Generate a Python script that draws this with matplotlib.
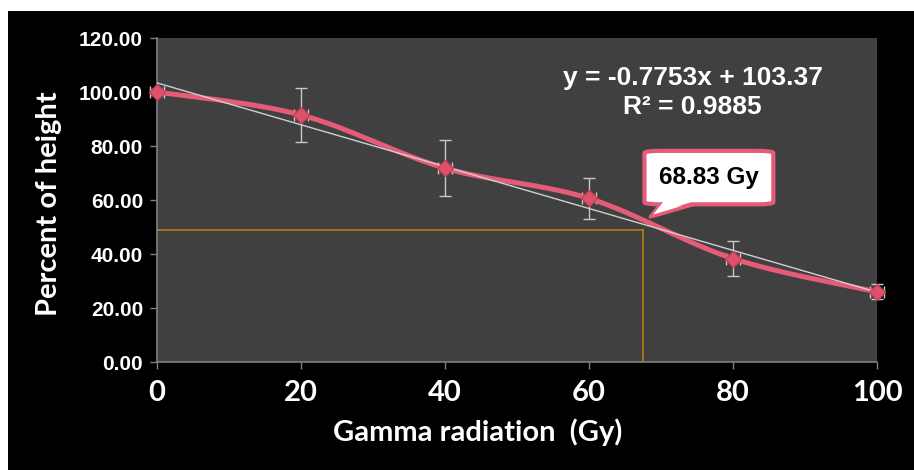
import numpy as np
import matplotlib
matplotlib.use("Agg")
import matplotlib.pyplot as plt
from matplotlib.patches import Rectangle, FancyBboxPatch, Polygon

# ---- data ----
dose = [0, 20, 40, 60, 80, 100]
height_pct = [100.0, 91.5, 71.8, 60.6, 38.3, 26.0]
err_y = [1.0, 10.1, 10.4, 7.6, 6.5, 2.8]
err_x = [1.0, 1.0, 1.0, 1.0, 1.0, 1.0]
slope, intercept = -0.7753, 103.37
r2 = 0.9885
ld50_dose = 67.5
ld50_level = 48.9
callout_label = "68.83 Gy"
x_ticks = [0, 20, 40, 60, 80, 100]
y_ticks = [0, 20, 40, 60, 80, 100, 120]

PINK = "#E65C78"
W, H = 914, 470
fig = plt.figure(figsize=(W / 100, H / 100), dpi=100, facecolor="white")
fig.patches.append(Rectangle((8 / W, 0), 1 - 8 / W, 1 - 11 / H, transform=fig.transFigure,
                             facecolor="black", edgecolor="none", zorder=-10))

ax = fig.add_axes([157 / W, (470 - 362) / H, 720 / W, 324 / H])
ax.set_facecolor("#404040")
ax.set_xlim(0, 100)
ax.set_ylim(0, 120)

# smoothed curve (Catmull-Rom through the data points)
xs = np.array(dose, float)
ys = np.array(height_pct, float)
P = np.column_stack([xs, ys])
Pe = np.vstack([P[0], P, P[-1]])
curve = []
for i in range(1, len(Pe) - 2):
    p0, p1, p2, p3 = Pe[i - 1], Pe[i], Pe[i + 1], Pe[i + 2]
    t = np.linspace(0, 1, 30)[:, None]
    seg = 0.5 * ((2 * p1) + (-p0 + p2) * t + (2 * p0 - 5 * p1 + 4 * p2 - p3) * t ** 2
                 + (-p0 + 3 * p1 - 3 * p2 + p3) * t ** 3)
    curve.append(seg)
curve = np.vstack(curve)

# guide lines
ax.plot([0, ld50_dose], [ld50_level, ld50_level], color="#B8860B", lw=1.1, zorder=2)
ax.plot([ld50_dose, ld50_dose], [0, ld50_level], color="#B8860B", lw=1.1, zorder=2)

ax.errorbar(xs, ys, yerr=err_y, xerr=err_x, fmt="none", ecolor="#C8C8C8",
            elinewidth=1, capsize=4, capthick=1, zorder=3, clip_on=False)
ax.plot(curve[:, 0], curve[:, 1], color=PINK, lw=3.6, solid_capstyle="round", zorder=4)
ax.plot(xs, ys, linestyle="none", marker="D", ms=8.5, color="#E0506A",
        markeredgecolor="#C8405A", zorder=5, clip_on=False)

# trendline
tx = np.array([0, 100])
ax.plot(tx, slope * tx + intercept, color="#D0D0D0", lw=1, zorder=4.5)

# equation
ax.text(74.4, 99.8, f"y = {slope}x + {intercept}\nR² = {r2}", ha="center", va="center",
        color="white", fontsize=19, fontweight="bold", family="Liberation Sans",
        linespacing=1.25, zorder=6)

# callout
bx0, bx1, by0, by1 = 67.7, 85.6, 58.4, 78.2
box = FancyBboxPatch((bx0, by0), bx1 - bx0, by1 - by0,
                     boxstyle="round,pad=0,rounding_size=2.2", mutation_aspect=1 / 2.67,
                     facecolor="white", edgecolor=PINK, lw=3, zorder=7)
ax.add_patch(box)
tri = Polygon([[70.0, by0 + 0.3], [75.0, by0 + 0.3], [68.5, 53.7]], closed=True,
              facecolor="white", edgecolor=PINK, lw=2.5, zorder=6.9, joinstyle="round")
ax.add_patch(tri)
tri2 = Polygon([[70.4, by0 + 1.2], [74.6, by0 + 1.2], [68.9, 54.6]], closed=True,
               facecolor="white", edgecolor="none", zorder=7.1)
ax.add_patch(tri2)
ax.text((bx0 + bx1) / 2, (by0 + by1) / 2, callout_label, ha="center", va="center",
        color="black", fontsize=17.5, fontweight="bold", family="Liberation Sans", zorder=8)

# axes styling
for s in ["top", "right"]:
    ax.spines[s].set_visible(False)
for s in ["left", "bottom"]:
    ax.spines[s].set_color("#808080")
    ax.spines[s].set_linewidth(1.2)
ax.set_xticks(x_ticks)
ax.set_yticks(y_ticks)
ax.set_yticklabels([f"{v:.2f}" for v in y_ticks])
ax.tick_params(axis="both", colors="#808080", length=5, width=1)
ax.tick_params(axis="y", labelsize=15, labelcolor="white", pad=5)
ax.tick_params(axis="x", labelsize=21, labelcolor="white", pad=8)
for lab in ax.get_yticklabels():
    lab.set_family("Liberation Sans")
    lab.set_fontweight("bold")
for lab in ax.get_xticklabels():
    lab.set_family("Lato")
    lab.set_fontweight("bold")

ax.set_ylabel("Percent of height", color="white", fontsize=21, fontweight="bold", family="Lato")
ax.yaxis.label.set_va("center")
ax.yaxis.label.set_ha("center")
ax.yaxis.set_label_coords(-0.15, 0.49)
fig.text(478 / W, 1 - 432 / H, "Gamma radiation  (Gy)", ha="center", va="center",
         color="white", fontsize=21, fontweight="bold", family="Lato")

fig.savefig("out.png", dpi=100, facecolor=fig.get_facecolor())
